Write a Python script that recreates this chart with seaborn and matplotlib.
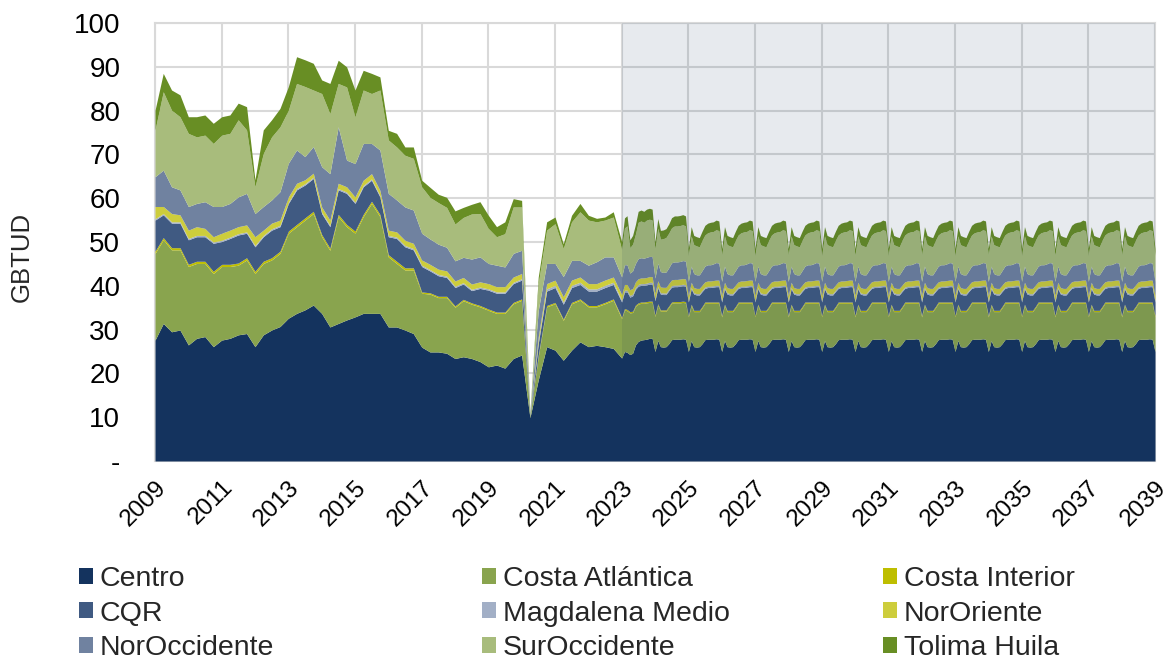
import numpy as np
import pandas as pd
import matplotlib
matplotlib.use("Agg")
import matplotlib.pyplot as plt
from matplotlib.patches import Patch
import seaborn as sns

# ---------------------------------------------------------------------------
# Regional gas demand (GBTUD)
# ---------------------------------------------------------------------------
regions = ["Centro", "Costa Atlántica", "Costa Interior", "CQR", "Magdalena Medio",
           "NorOriente", "NorOccidente", "SurOccidente", "Tolima Huila"]
region_colors = ["#14335E", "#89A44E", "#BEBE00", "#405A82", "#A2AFC6",
                 "#CDCD3C", "#7082A0", "#A8BC7C", "#688E24"]

# Historical, quarterly from Jan 2009 to Oct 2022
hist_centro = [27.6, 31.4, 29.5, 29.9, 26.5, 28.0, 28.4, 26.1, 27.6, 28.0, 28.8, 29.1,
               26.1, 28.8, 29.9, 30.7, 32.6, 33.7, 34.5, 35.6, 33.7, 30.6, 31.4, 32.2,
               32.9, 33.7, 33.7, 33.7, 30.6, 30.6, 29.9, 29.1, 26.0, 24.9, 24.9, 24.6,
               23.4, 23.8, 23.4, 22.7, 21.5, 21.9, 21.2, 23.4, 24.2, 9.9, 18.5, 26.1,
               25.3, 23.0, 25.3, 27.2, 26.1, 26.4, 26.1, 25.7]
hist_costa_atl = [19.8, 19.1, 18.7, 18.3, 17.9, 17.1, 16.7, 16.7, 16.8, 16.4, 15.9, 16.8,
                  16.7, 16.3, 16.0, 16.7, 19.4, 19.8, 20.5, 20.9, 17.5, 17.5, 24.4, 21.3,
                  19.1, 22.1, 25.1, 22.1, 16.0, 14.5, 13.7, 14.5, 12.3, 13.2, 12.4, 12.7,
                  11.7, 12.8, 12.4, 12.5, 12.9, 11.8, 12.5, 12.5, 12.5, 0.3, 5.3, 9.1,
                  10.6, 9.1, 10.6, 9.5, 9.1, 8.8, 9.8, 11.0]
hist_costa_int = [0.5, 0.5, 0.5, 0.5, 0.5, 0.5, 0.5, 0.5, 0.5, 0.5, 0.5, 0.5,
                  0.5, 0.5, 0.5, 0.5, 0.5, 0.5, 0.5, 0.5, 0.5, 0.5, 0.5, 0.5,
                  0.5, 0.5, 0.5, 0.5, 0.5, 0.5, 0.5, 0.5, 0.3, 0.3, 0.3, 0.3,
                  0.3, 0.3, 0.3, 0.3, 0.3, 0.3, 0.3, 0.3, 0.3, 0.0, 0.3, 0.3,
                  0.3, 0.3, 0.3, 0.3, 0.3, 0.3, 0.3, 0.3]
hist_cqr = [7.1, 5.2, 5.6, 5.6, 5.6, 5.6, 5.6, 6.4, 5.2, 5.9, 6.4, 5.6,
            5.6, 5.6, 6.3, 5.6, 6.3, 7.9, 7.5, 7.5, 4.8, 4.9, 5.6, 7.1,
            6.3, 6.3, 4.8, 4.0, 4.1, 5.2, 4.8, 4.1, 5.8, 5.0, 4.7, 4.3,
            4.2, 3.5, 2.8, 3.9, 4.3, 4.3, 4.3, 4.3, 4.3, 0.1, 2.7, 3.3,
            3.4, 3.4, 3.4, 3.3, 3.3, 3.3, 3.4, 3.3]
hist_magdalena = [0.3, 0.3, 0.3, 0.3, 0.3, 0.3, 0.3, 0.3, 0.3, 0.3, 0.3, 0.3,
                  0.3, 0.3, 0.3, 0.3, 0.3, 0.3, 0.3, 0.3, 0.3, 0.3, 0.3, 0.3,
                  0.3, 0.3, 0.3, 0.3, 0.3, 0.3, 0.3, 0.3, 0.3, 0.3, 0.3, 0.3,
                  0.3, 0.3, 0.3, 0.3, 0.3, 0.3, 0.3, 0.3, 0.3, 0.05, 0.5, 0.5,
                  0.5, 0.5, 0.5, 0.5, 0.5, 0.5, 0.5, 0.5]
hist_nororiente = [2.8, 1.6, 1.9, 1.6, 1.9, 2.0, 1.6, 1.2, 1.6, 1.6, 1.6, 1.6,
                   2.0, 1.2, 1.3, 1.2, 1.2, 1.2, 0.9, 0.9, 1.2, 1.2, 1.2, 1.2,
                   1.2, 1.2, 1.2, 1.2, 1.2, 1.2, 1.2, 1.2, 1.2, 1.2, 1.2, 1.2,
                   1.2, 1.2, 1.2, 1.2, 1.2, 1.2, 1.2, 1.2, 1.2, 0.05, 1.0, 1.2,
                   1.2, 1.2, 1.2, 1.2, 1.2, 1.2, 1.2, 1.2]
hist_noroccidente = [6.8, 8.3, 6.1, 5.7, 5.4, 5.3, 6.1, 6.9, 6.1, 6.1, 6.8, 7.2,
                     5.3, 5.4, 5.3, 6.5, 7.7, 7.6, 5.3, 6.1, 9.2, 10.6, 12.9, 6.1,
                     7.6, 8.4, 6.9, 9.2, 8.4, 7.3, 7.6, 7.6, 6.1, 5.8, 5.7, 5.4,
                     4.6, 4.6, 5.7, 5.7, 4.6, 4.9, 4.5, 5.4, 5.3, 0.2, 6.1, 4.6,
                     3.8, 4.6, 4.5, 3.8, 4.2, 5.0, 5.3, 4.6]
hist_suroccidente = [10.7, 17.9, 17.5, 16.7, 16.7, 15.2, 15.2, 14.4, 16.3, 16.0, 17.6, 14.5,
                     6.1, 12.1, 14.4, 14.8, 12.1, 15.2, 16.0, 12.9, 16.7, 13.7, 9.9, 16.7,
                     10.7, 12.2, 11.4, 13.7, 12.2, 12.1, 11.8, 11.8, 10.6, 9.5, 9.5, 9.1,
                     8.4, 9.1, 10.3, 9.9, 8.0, 6.5, 7.6, 10.6, 9.9, 0.2, 6.1, 7.6,
                     9.1, 6.4, 8.8, 11.1, 10.3, 9.1, 8.4, 9.1]
hist_tolima = [4.5, 4.2, 4.6, 5.0, 3.8, 4.6, 4.6, 4.6, 4.2, 4.2, 3.8, 5.3,
               1.6, 5.4, 3.9, 4.2, 5.4, 6.1, 6.1, 6.1, 3.1, 6.9, 5.3, 4.6,
               6.1, 4.5, 4.6, 3.0, 2.2, 3.1, 1.9, 2.6, 1.5, 2.3, 1.9, 2.3,
               3.0, 2.3, 2.2, 2.7, 3.0, 2.3, 2.7, 1.9, 1.5, 0.2, 1.5, 1.9,
               1.5, 1.1, 1.5, 1.9, 1.1, 0.8, 0.7, 1.2]

# Projection, monthly: 2023, 2024 and the recurring year used from 2025 to 2039
proj_2023 = {
    "Centro":          [23.5, 25.0, 24.8, 24.3, 24.6, 26.5, 27.3, 27.6, 27.7, 27.8, 28.0, 28.0],
    "Costa Atlántica": [9.0, 9.5, 9.5, 9.5, 9.3, 8.8, 8.5, 8.4, 8.3, 8.3, 8.2, 8.2],
    "Costa Interior":  [0.3, 0.3, 0.3, 0.3, 0.3, 0.3, 0.3, 0.3, 0.3, 0.3, 0.3, 0.3],
    "CQR":             [3.5, 3.8, 4.0, 3.3, 3.5, 3.6, 3.8, 3.8, 3.8, 3.8, 3.9, 3.9],
    "Magdalena Medio": [0.4, 0.4, 0.4, 0.4, 0.4, 0.4, 0.4, 0.4, 0.4, 0.4, 0.4, 0.4],
    "NorOriente":      [1.3, 1.3, 1.3, 1.3, 1.3, 1.3, 1.3, 1.3, 1.3, 1.3, 1.3, 1.3],
    "NorOccidente":    [4.0, 4.5, 4.5, 3.8, 4.0, 4.2, 4.6, 4.6, 4.5, 4.6, 4.6, 4.6],
    "SurOccidente":    [6.3, 8.4, 8.9, 5.8, 6.1, 6.7, 8.3, 8.4, 8.2, 8.5, 8.5, 8.3],
    "Tolima Huila":    [1.8, 2.3, 2.3, 1.8, 2.0, 2.2, 2.5, 2.5, 2.5, 2.5, 2.5, 2.5],
}
proj_2024 = {
    "Centro":          [25.0, 27.5, 26.1, 26.0, 26.1, 26.8, 27.7, 27.8, 27.8, 27.8, 27.9, 27.8],
    "Costa Atlántica": [8.0, 8.1, 8.1, 8.2, 8.1, 8.3, 8.3, 8.3, 8.3, 8.3, 8.3, 8.3],
    "Costa Interior":  [0.3, 0.3, 0.3, 0.3, 0.3, 0.3, 0.3, 0.3, 0.3, 0.3, 0.3, 0.3],
    "CQR":             [3.3, 3.6, 3.6, 3.5, 3.5, 3.5, 3.4, 3.4, 3.4, 3.5, 3.5, 3.5],
    "Magdalena Medio": [0.35, 0.35, 0.35, 0.35, 0.35, 0.35, 0.35, 0.35, 0.35, 0.35, 0.35, 0.35],
    "NorOriente":      [1.3, 1.3, 1.3, 1.3, 1.3, 1.3, 1.3, 1.3, 1.3, 1.3, 1.3, 1.3],
    "NorOccidente":    [3.5, 4.0, 3.5, 3.4, 3.5, 3.6, 3.9, 4.0, 4.0, 4.0, 4.1, 4.1],
    "SurOccidente":    [6.6, 8.0, 7.4, 7.7, 7.9, 7.9, 8.0, 8.2, 8.2, 8.2, 8.2, 8.0],
    "Tolima Huila":    [1.7, 2.2, 2.0, 2.0, 2.0, 2.1, 2.3, 2.3, 2.3, 2.3, 2.3, 2.3],
}
proj_year = {
    "Centro":          [25.0, 27.5, 26.1, 26.0, 26.1, 26.8, 27.7, 27.8, 27.8, 27.8, 27.9, 27.8],
    "Costa Atlántica": [7.9, 8.0, 8.0, 8.1, 8.0, 8.2, 8.3, 8.2, 8.2, 8.2, 8.1, 8.2],
    "Costa Interior":  [0.3, 0.3, 0.3, 0.3, 0.3, 0.3, 0.3, 0.3, 0.3, 0.3, 0.3, 0.3],
    "CQR":             [3.1, 3.5, 3.7, 3.5, 3.5, 3.4, 3.1, 3.3, 3.3, 3.4, 3.5, 3.5],
    "Magdalena Medio": [0.3, 0.3, 0.3, 0.3, 0.3, 0.3, 0.3, 0.3, 0.3, 0.3, 0.3, 0.3],
    "NorOriente":      [1.2, 1.2, 1.2, 1.2, 1.2, 1.2, 1.2, 1.2, 1.2, 1.2, 1.2, 1.2],
    "NorOccidente":    [3.2, 3.7, 3.2, 3.1, 3.1, 3.3, 3.6, 3.7, 3.7, 3.8, 4.0, 3.9],
    "SurOccidente":    [5.9, 6.9, 6.6, 6.6, 6.4, 6.9, 7.1, 7.3, 7.5, 7.4, 7.5, 7.4],
    "Tolima Huila":    [1.6, 2.1, 2.1, 2.1, 2.1, 2.1, 2.2, 2.2, 2.2, 2.2, 2.2, 2.2],
}
recurring_years = 14          # 2025 ... 2038, plus January 2039

history = {
    "Centro": hist_centro, "Costa Atlántica": hist_costa_atl, "Costa Interior": hist_costa_int,
    "CQR": hist_cqr, "Magdalena Medio": hist_magdalena, "NorOriente": hist_nororiente,
    "NorOccidente": hist_noroccidente, "SurOccidente": hist_suroccidente, "Tolima Huila": hist_tolima,
}

hist_dates = pd.date_range("2009-01-01", "2022-10-01", freq="QS")
proj_dates = pd.date_range("2023-01-01", "2039-01-01", freq="MS")
dates = hist_dates.append(proj_dates)

demand = pd.DataFrame(
    {r: history[r] + proj_2023[r] + proj_2024[r]
        + proj_year[r] * recurring_years + proj_year[r][:1]
     for r in regions},
    index=dates,
)

# ---------------------------------------------------------------------------
# Figure
# ---------------------------------------------------------------------------
sns.set_theme(style="white")
plt.rcParams["font.family"] = ["Liberation Sans", "DejaVu Sans"]
palette = sns.color_palette(region_colors)

fig = plt.figure(figsize=(11.63, 6.59), dpi=100)
ax = fig.add_axes([0.1333, 0.3005, 0.8598, 0.6646])

grid_c = "#D9D9D9"
ax.stackplot(demand.index, demand[regions].T.values, colors=palette,
             linewidth=0, zorder=2)

# projection period shading
ax.axvspan(pd.Timestamp("2023-01-01"), pd.Timestamp("2039-01-01"),
           color="#14335E", alpha=0.1, lw=0, zorder=3)

ax.set_xlim(pd.Timestamp("2009-01-01"), pd.Timestamp("2039-01-01"))
ax.set_ylim(0, 100)

yt = list(range(0, 101, 10))
ax.set_yticks(yt)
ax.set_yticklabels(["-" if v == 0 else str(v) for v in yt])

tick_years = list(range(2009, 2040, 2))
ax.set_xticks([pd.Timestamp(f"{y}-01-01") for y in tick_years])
ax.set_xticklabels([str(y) for y in tick_years])

ax.grid(True, color=grid_c, linewidth=1.5, zorder=0)
ax.set_axisbelow(True)
for sp in ax.spines.values():
    sp.set_color(grid_c)
    sp.set_linewidth(1.5)
    sp.set_zorder(1)

ax.tick_params(axis="y", length=0, pad=25, labelsize=20, colors="black")
ax.tick_params(axis="x", length=7, width=1.5, color=grid_c, direction="out",
               pad=4, labelsize=17.5, labelcolor="black")
for lbl in ax.get_xticklabels():
    lbl.set_rotation(45)
    lbl.set_ha("right")
    lbl.set_va("top")
    lbl.set_rotation_mode("anchor")

fig.text(22 / 1163, 1 - 257 / 659, "GBTUD", rotation=90, fontsize=18.5,
         ha="center", va="center")

# legend: three columns laid out row by row
columns = [["Centro", "CQR", "NorOccidente"],
           ["Costa Atlántica", "Magdalena Medio", "SurOccidente"],
           ["Costa Interior", "NorOriente", "Tolima Huila"]]
col_x = [79, 482, 883]
for names, x0 in zip(columns, col_x):
    handles = [Patch(facecolor=palette[regions.index(n)], edgecolor="none", label=n)
               for n in names]
    fig.legend(handles=handles, loc="upper left",
               bbox_to_anchor=(x0 / 1163, 1 - 566 / 659),
               frameon=False, fontsize=20.5, borderpad=0, borderaxespad=0,
               handlelength=0.48, handleheight=0.48, handletextpad=0.25,
               labelspacing=0.3)

fig.savefig("out.png", dpi=100)
